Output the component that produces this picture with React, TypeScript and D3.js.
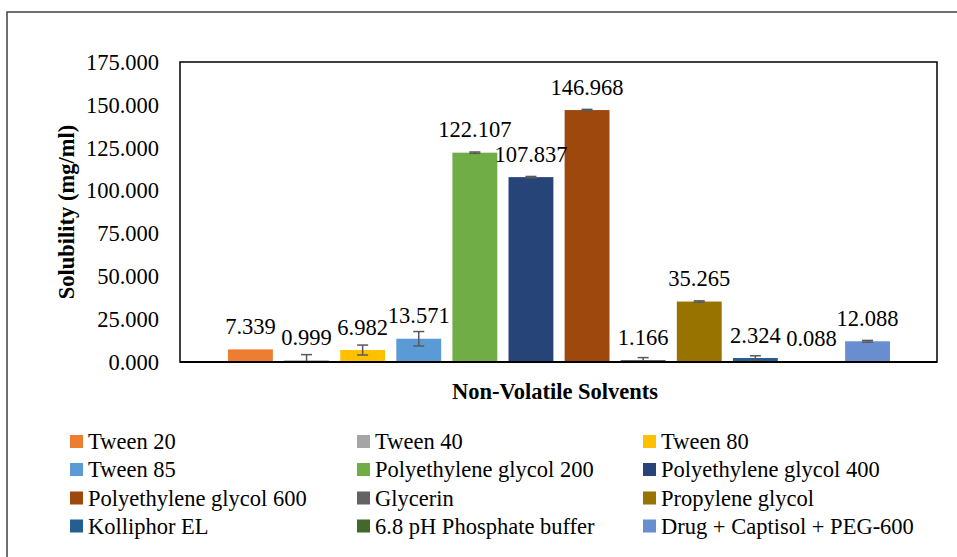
import React, { useEffect, useRef } from 'react';
import * as d3 from 'd3';

const seriesNames = [
  'Tween 20', 'Tween 40', 'Tween 80', 'Tween 85',
  'Polyethylene glycol 200', 'Polyethylene glycol 400', 'Polyethylene glycol 600', 'Glycerin',
  'Propylene glycol', 'Kolliphor EL', '6.8 pH Phosphate buffer', 'Drug + Captisol + PEG-600',
];
const solubility = [7.339, 0.999, 6.982, 13.571, 122.107, 107.837, 146.968, 1.166, 35.265, 2.324, 0.088, 12.088];
const errors = [0, 3.3, 2.9, 4.2, 0.4, 0.4, 0.4, 1.4, 0.4, 1.3, 0.05, 0.5];
const colors = [
  '#ED7D31', '#A5A5A5', '#FFC000', '#5B9BD5', '#70AD47', '#264478',
  '#9E480E', '#636363', '#997300', '#255E91', '#43682B', '#698ED0',
];
const yTicks = [0, 25, 50, 75, 100, 125, 150, 175];

const FONT = '"Times New Roman", Times, "Liberation Serif", serif';

const App = () => {
  const svgRef = useRef<SVGSVGElement | null>(null);

  useEffect(() => {
    if (!svgRef.current) return;
    document.body.style.margin = '0';

    const svg = d3.select(svgRef.current);
    svg.selectAll('*').remove();

    const width = 957;
    const height = 557;
    const plot = { left: 180, right: 937, top: 62, bottom: 362 };

    svg.attr('width', width).attr('height', height).style('background', '#fff');

    // outer chart frame (runs off the right / bottom edge)
    svg.append('rect')
      .attr('x', 7).attr('y', 12)
      .attr('width', 1000).attr('height', 600)
      .attr('fill', 'none')
      .attr('stroke', '#404040')
      .attr('stroke-width', 1.5);

    const x = d3.scaleBand<string>()
      .domain(seriesNames)
      .range([222.4, 895.6])
      .paddingInner(0.2)
      .paddingOuter(0.1);

    const y = d3.scaleLinear()
      .domain([0, 175])
      .range([plot.bottom, plot.top]);

    // plot area border
    svg.append('rect')
      .attr('x', plot.left).attr('y', plot.top)
      .attr('width', plot.right - plot.left)
      .attr('height', plot.bottom - plot.top)
      .attr('fill', 'none')
      .attr('stroke', '#000')
      .attr('stroke-width', 1.5);

    // y tick labels
    yTicks.forEach((t) => {
      svg.append('text')
        .attr('x', 159)
        .attr('y', y(t))
        .attr('dy', '0.35em')
        .attr('text-anchor', 'end')
        .style('font-family', FONT)
        .attr('font-size', 22.5)
        .attr('fill', '#000')
        .text(d3.format('.3f')(t));
    });

    // bars
    seriesNames.forEach((name, i) => {
      const v = solubility[i];
      svg.append('rect')
        .attr('x', x(name)!)
        .attr('y', y(v))
        .attr('width', x.bandwidth())
        .attr('height', y(0) - y(v))
        .attr('fill', colors[i]);
    });

    // error bars
    seriesNames.forEach((name, i) => {
      const e = errors[i];
      if (!e) return;
      const cx = x(name)! + x.bandwidth() / 2;
      const top = y(solubility[i] + e);
      const bot = y(Math.max(0, solubility[i] - e));
      const g = svg.append('g').attr('stroke', '#595959').attr('stroke-width', 1.5);
      g.append('line').attr('x1', cx).attr('x2', cx).attr('y1', top).attr('y2', bot);
      g.append('line').attr('x1', cx - 5.5).attr('x2', cx + 5.5).attr('y1', top).attr('y2', top);
      g.append('line').attr('x1', cx - 5.5).attr('x2', cx + 5.5).attr('y1', bot).attr('y2', bot);
    });

    // x axis line
    svg.append('line')
      .attr('x1', plot.left).attr('x2', plot.right)
      .attr('y1', y(0)).attr('y2', y(0))
      .attr('stroke', '#000')
      .attr('stroke-width', 2);

    // value labels
    seriesNames.forEach((name, i) => {
      svg.append('text')
        .attr('x', x(name)! + x.bandwidth() / 2)
        .attr('y', y(solubility[i]) - 15.5)
        .attr('text-anchor', 'middle')
        .style('font-family', FONT)
        .attr('font-size', 22.5)
        .attr('fill', '#000')
        .text(d3.format('.3f')(solubility[i]));
    });

    // axis titles
    svg.append('text')
      .attr('transform', `translate(74, ${(plot.top + plot.bottom) / 2}) rotate(-90)`)
      .attr('text-anchor', 'middle')
      .style('font-family', FONT)
      .attr('font-weight', 'bold')
      .attr('font-size', 22.5)
      .attr('fill', '#000')
      .text('Solubility (mg/ml)');

    svg.append('text')
      .attr('x', 555)
      .attr('y', 399)
      .attr('text-anchor', 'middle')
      .style('font-family', FONT)
      .attr('font-weight', 'bold')
      .attr('font-size', 22.5)
      .attr('fill', '#000')
      .text('Non-Volatile Solvents');

    // legend: 3 columns x 4 rows
    const colX = [70, 357, 643];
    const rowY = [441.5, 469.5, 498, 526];
    seriesNames.forEach((name, i) => {
      const cx = colX[i % 3];
      const cy = rowY[Math.floor(i / 3)];
      svg.append('rect')
        .attr('x', cx).attr('y', cy - 6.5)
        .attr('width', 13).attr('height', 13)
        .attr('fill', colors[i]);
      svg.append('text')
        .attr('x', cx + 18)
        .attr('y', cy)
        .attr('dy', '0.35em')
        .style('font-family', FONT)
        .attr('font-size', 22.5)
        .attr('fill', '#000')
        .text(name);
    });
  }, []);

  return (
    <div>
      <svg ref={svgRef} style={{ position: 'absolute', left: 0, top: 0, display: 'block' }}></svg>
    </div>
  );
};

export default App;
